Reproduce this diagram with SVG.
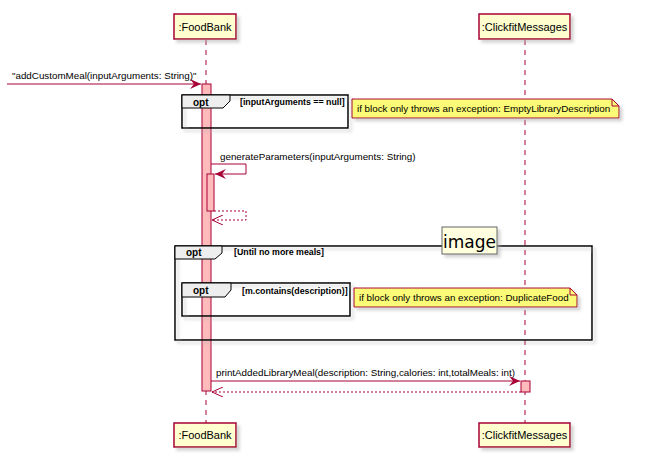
<svg xmlns="http://www.w3.org/2000/svg" width="652" height="456" viewBox="0 0 652 456">
<defs>
<filter id="sh" x="-20%" y="-20%" width="150%" height="160%"><feGaussianBlur in="SourceAlpha" stdDeviation="1.5"/><feOffset dx="3" dy="3" result="b"/><feColorMatrix in="b" type="matrix" values="0 0 0 0 0.4  0 0 0 0 0.4  0 0 0 0 0.4  0 0 0 0.5 0"/><feMerge><feMergeNode/><feMergeNode in="SourceGraphic"/></feMerge></filter>
<marker id="arr" viewBox="0 0 12 10" refX="11" refY="5" markerWidth="12" markerHeight="10" markerUnits="userSpaceOnUse" orient="auto"><path d="M0,0 L11,5 L0,10 L4,5 Z" fill="#A80036"/></marker>
<marker id="oarr" viewBox="0 0 12 10" refX="11" refY="5" markerWidth="12" markerHeight="10" markerUnits="userSpaceOnUse" orient="auto"><path d="M0,0 L11,5 L0,10" fill="none" stroke="#A80036" stroke-width="1"/></marker>
</defs>
<style>
.part{fill:#FEFECE;stroke:#A80036;stroke-width:1.5}
.pt{font-family:"Liberation Sans",Arial,sans-serif;font-size:11px;fill:#000}
.life{stroke:#A80036;stroke-width:1;stroke-dasharray:5,5}
.act{fill:#FFBBBB;stroke:#A80036;stroke-width:1}
.msg{stroke:#A80036;stroke-width:1;fill:none}
.ret{stroke:#A80036;stroke-width:1;fill:none;stroke-dasharray:2,2}
.ml{font-family:"Liberation Sans",Arial,sans-serif;font-size:9.8px;fill:#000}
.frame{fill:none;stroke:#000;stroke-width:1.5}
.tab{fill:#EEEEEE;stroke:#000;stroke-width:1}
.ft{font-family:"Liberation Sans",Arial,sans-serif;font-size:10px;font-weight:bold;fill:#000}
.ct{font-family:"Liberation Sans",Arial,sans-serif;font-size:8.8px;font-weight:bold;fill:#000}
.note{fill:#FBFB77;stroke:#A80036;stroke-width:1}
.nt{font-family:"Liberation Sans",Arial,sans-serif;font-size:9.8px;fill:#000}
</style>
<g id="lifelines">
<line class="life" x1="206" y1="40" x2="206" y2="423"/>
<line class="life" x1="525" y1="40" x2="525" y2="423"/>
</g>
<g id="participant-foodbank-top"><rect class="part" x="174" y="14" width="62" height="25" filter="url(#sh)"/><text class="pt" x="205" y="31" text-anchor="middle">:FoodBank</text></g>
<g id="participant-clickfit-top"><rect class="part" x="479" y="14" width="91" height="25" filter="url(#sh)"/><text class="pt" x="524.5" y="31" text-anchor="middle">:ClickfitMessages</text></g>
<g id="participant-foodbank-bottom"><rect class="part" x="174" y="423" width="62" height="24" filter="url(#sh)"/><text class="pt" x="205" y="439" text-anchor="middle">:FoodBank</text></g>
<g id="participant-clickfit-bottom"><rect class="part" x="479" y="423" width="91" height="24" filter="url(#sh)"/><text class="pt" x="524.5" y="439" text-anchor="middle">:ClickfitMessages</text></g>
<g id="activations">
<rect class="act" x="202" y="84" width="9" height="307"/>
<rect class="act" x="207" y="174" width="7" height="37"/>
<rect class="act" x="521" y="381" width="9" height="11"/>
</g>
<g id="frame-opt1">
<rect class="frame" x="182" y="95" width="166" height="33" filter="url(#sh)"/>
<path class="tab" d="M182,95 L230,95 L230,101 L223,108 L182,108 Z"/>
<text class="ft" x="193" y="106">opt</text>
<text class="ct" x="240" y="105">[inputArguments == null]</text>
</g>
<g id="note1">
<path class="note" d="M352,99 L612,99 L619,106 L619,118 L352,118 Z" filter="url(#sh)"/>
<path class="msg" d="M612,99 L612,106 L619,106"/>
<text class="nt" x="357" y="112">if block only throws an exception: EmptyLibraryDescription</text>
</g>
<g id="frame-opt2">
<rect class="frame" x="175" y="246" width="417" height="94" filter="url(#sh)"/>
<path class="tab" d="M175,246 L222,246 L222,253 L215,259 L175,259 Z"/>
<text class="ft" x="186" y="256">opt</text>
<text class="ct" x="234" y="255">[Until no more meals]</text>
</g>
<g id="image-label">
<rect x="442" y="227" width="55" height="27" fill="#FFFFE0" stroke="#666" stroke-width="1" filter="url(#sh)"/>
<text x="469.5" y="248" text-anchor="middle" font-family="DejaVu Sans,Verdana,sans-serif" font-size="17" fill="#000">image</text>
</g>
<g id="frame-opt3">
<rect class="frame" x="182" y="283" width="168" height="33" filter="url(#sh)"/>
<path class="tab" d="M182,283 L231,283 L231,290 L225,297 L182,297 Z"/>
<text class="ft" x="193" y="294">opt</text>
<text class="ct" x="242" y="294">[m.contains(description)]</text>
</g>
<g id="note2">
<path class="note" d="M354,288 L570,288 L577,295 L577,307 L354,307 Z" filter="url(#sh)"/>
<path class="msg" d="M570,288 L570,295 L577,295"/>
<text class="nt" x="359" y="301">if block only throws an exception: DuplicateFood</text>
</g>
<g id="connectors">
<line class="msg" x1="7" y1="84" x2="201" y2="84" marker-end="url(#arr)"/>
<text class="ml" x="12" y="79">"addCustomMeal(inputArguments: String)"</text>
<path class="msg" d="M211,164 L246,164 L246,174 L215,174" marker-end="url(#arr)"/>
<text class="ml" x="220" y="160">generateParameters(inputArguments: String)</text>
<path class="ret" d="M214,211 L246,211 L246,220 L212,220" marker-end="url(#oarr)"/>
<line class="msg" x1="211" y1="381" x2="520" y2="381" marker-end="url(#arr)"/>
<text class="ml" x="216" y="376">printAddedLibraryMeal(description: String,calories: int,totalMeals: int)</text>
<line class="ret" x1="521" y1="392" x2="212" y2="392" marker-end="url(#oarr)"/>
</g>
</svg>
